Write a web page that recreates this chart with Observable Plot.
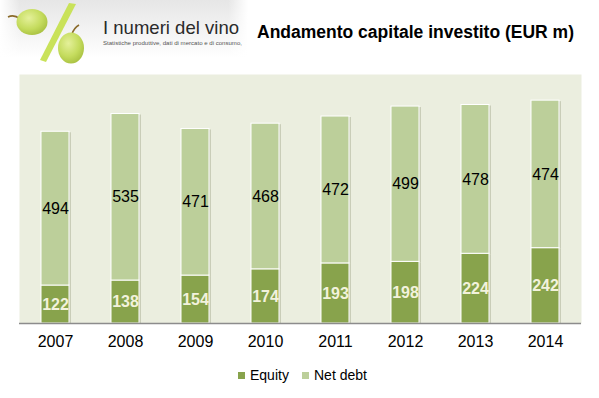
<!DOCTYPE html>
<html>
<head>
<meta charset="utf-8">
<script src="https://cdn.jsdelivr.net/npm/d3@7"></script>
<script src="https://cdn.jsdelivr.net/npm/@observablehq/plot@0.6"></script>
<style>
  body { margin: 0; background: #fff; font-family: "Liberation Sans", Arial, sans-serif; }
  #wrap { position: relative; width: 599px; height: 398px; overflow: hidden; }
  #logo { position: absolute; left: 0; top: 0; }
  #title { position: absolute; left: 257px; top: 22px; font-size: 17.5px; font-weight: bold; color: #000; white-space: nowrap; }
  #chart { position: absolute; left: 0; top: 0; }
  #legend { position: absolute; left: 0; top: 367px; width: 599px; font-size: 14px; color: #000; }
  .li { position: absolute; top: 0; white-space: nowrap; }
  .sw { display: inline-block; width: 7px; height: 7px; margin-right: 5px; vertical-align: 1px; }
</style>
</head>
<body>
<div id="wrap">
  <div id="chart"></div>
  <svg id="logo" width="252" height="66" viewBox="0 0 252 66">
    <defs>
      <linearGradient id="bg" x1="0" y1="0" x2="0" y2="1">
        <stop offset="0" stop-color="#e6e6e6"/>
        <stop offset="1" stop-color="#ffffff"/>
      </linearGradient>
      <linearGradient id="fade" x1="0" y1="0" x2="1" y2="0">
        <stop offset="0" stop-color="#fff" stop-opacity="1"/>
        <stop offset="0.08" stop-color="#fff" stop-opacity="0"/>
        <stop offset="0.92" stop-color="#fff" stop-opacity="0"/>
        <stop offset="1" stop-color="#fff" stop-opacity="1"/>
      </linearGradient>
      <radialGradient id="grape" cx="0.4" cy="0.35" r="0.7">
        <stop offset="0" stop-color="#e4f09a"/>
        <stop offset="0.6" stop-color="#c5dc5e"/>
        <stop offset="1" stop-color="#a8c040"/>
      </radialGradient>
    </defs>
    <rect x="0" y="0" width="248" height="58" fill="url(#bg)"/>
    <rect x="0" y="0" width="248" height="58" fill="url(#fade)"/>
    <path d="M8,17 Q14,14 20,19" stroke="#8a6a2a" stroke-width="1.6" fill="none"/>
    <ellipse cx="32" cy="22" rx="15.5" ry="13" fill="url(#grape)"/>
    <polygon points="69,3 76,4 46,62 40,60" fill="#c9e25a"/>
    <path d="M79,25 Q74,28 72,34" stroke="#8a6a2a" stroke-width="1.6" fill="none"/>
    <ellipse cx="71" cy="48" rx="13" ry="15.5" fill="url(#grape)"/>
    <text x="103" y="34" font-family="Liberation Sans, Arial, sans-serif" font-size="18.5" fill="#2a2a2a" textLength="136" lengthAdjust="spacingAndGlyphs">I numeri del vino</text>
    <text x="103" y="45" font-family="Liberation Sans, Arial, sans-serif" font-size="5.6" fill="#555" textLength="139" lengthAdjust="spacingAndGlyphs">Statistiche produttive, dati di mercato e di consumo,</text>
  </svg>
  <div id="title">Andamento capitale investito (EUR m)</div>
  <div id="legend">
    <span class="li" style="left:238px"><span class="sw" style="background:#88a34c"></span>Equity</span>
    <span class="li" style="left:302px"><span class="sw" style="background:#bccf9a"></span>Net debt</span>
  </div>
</div>
<script>
const years = ["2007","2008","2009","2010","2011","2012","2013","2014"];
const equity = [122,138,154,174,193,198,224,242];
const netDebt = [494,535,471,468,472,499,478,474];
const seriesNames = ["Equity","Net debt"];
const seriesColors = ["#88a34c","#bccf9a"];

const data = [];
years.forEach((y, i) => {
  data.push({year: y, series: "Equity", value: equity[i]});
  data.push({year: y, series: "Net debt", value: netDebt[i]});
});

const stack = (extra) => Plot.stackY({ x: "year", y: "value", z: "series", order: seriesNames, ...extra });

const plot = Plot.plot({
  width: 599,
  height: 360,
  marginTop: 74,
  marginBottom: 37,
  marginLeft: 19,
  marginRight: 18,
  style: { fontFamily: "Liberation Sans, Arial, sans-serif", background: "transparent", color: "#000" },
  x: { domain: years, paddingInner: 0.6, paddingOuter: 0.3, label: null },
  y: { domain: [0, 800], axis: null },
  color: { domain: seriesNames, range: seriesColors },
  marks: [
    Plot.frame({ fill: "#ebeedf", stroke: null }),
    Plot.barY(data, stack({ fill: "#c9cdb8", dx: 2, dy: 1 })),
    Plot.barY(data, stack({ fill: "series", stroke: "#ffffff", strokeWidth: 1 })),
    Plot.ruleY([0], { stroke: "#8c8c8c", strokeWidth: 1.5 }),
    Plot.text(data, stack({ text: d => d.series === "Equity" ? String(d.value) : null, fill: "#f2f2dc", fontWeight: "bold", fontSize: 16 })),
    Plot.text(data, stack({ text: d => d.series === "Net debt" ? String(d.value) : null, fill: "#000", fontSize: 16 })),
    Plot.axisX({ tickSize: 0, tickPadding: 12, fontSize: 16, label: null, fill: "#000" })
  ]
});
document.getElementById("chart").appendChild(plot);
</script>
</body>
</html>
